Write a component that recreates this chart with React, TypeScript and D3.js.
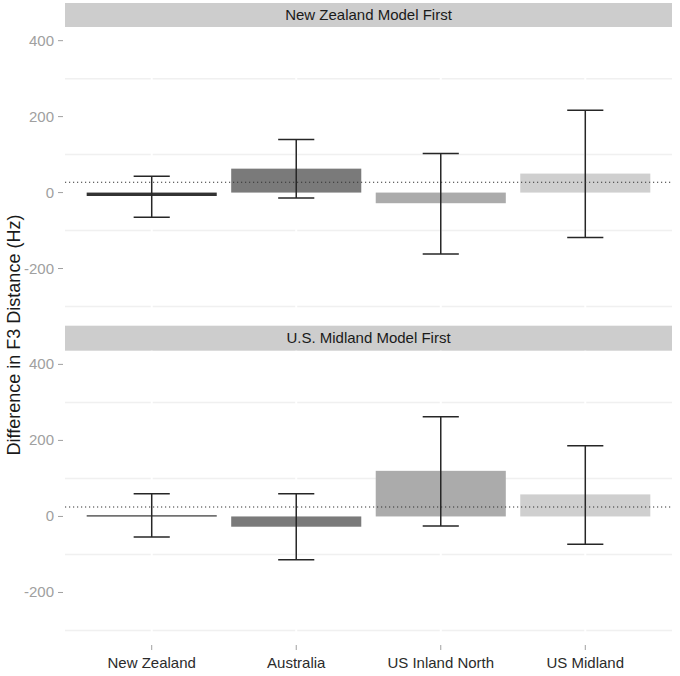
import * as d3 from 'd3';

// categories on the x axis
const CATEGORIES = ['New Zealand', 'Australia', 'US Inland North', 'US Midland'];
// facet titles
const PANELS = ['New Zealand Model First', 'U.S. Midland Model First'];

// New Zealand model first
const NZ_MEANS = [-9, 63, -28, 50];
const NZ_LOWER = [-65, -14, -162, -118];
const NZ_UPPER = [43, 140, 103, 217];

// U.S. Midland model first
const US_MEANS = [3, -27, 120, 58];
const US_LOWER = [-54, -114, -25, -73];
const US_UPPER = [60, 60, 262, 186];

// dotted reference line per panel
const REF_LINES = [27, 25];

const Y_TICKS = [-200, 0, 200, 400];
const Y_MINOR = [-300, -100, 100, 300];

const FILLS = ['#333333', '#7a7a7a', '#ababab', '#cfcfcf'];

const W = 680;
const H = 676;
const LEFT = 65;
const RIGHT = 672;
const FONT = '"Liberation Sans", Arial, sans-serif';

const panelData = [
  { means: NZ_MEANS, lower: NZ_LOWER, upper: NZ_UPPER, ref: REF_LINES[0], stripTop: 3, top: 27, bottom: 316 },
  { means: US_MEANS, lower: US_LOWER, upper: US_UPPER, ref: REF_LINES[1], stripTop: 325.7, top: 350.7, bottom: 640 }
];

const x = d3.scaleLinear().domain([0.4, 4.6]).range([LEFT, RIGHT]);
const pos = (i: number) => x(i + 1);

function Panel({ idx }: { idx: number }) {
  const p = panelData[idx];
  const y = d3.scaleLinear().domain([-325, 436]).range([p.bottom, p.top]);
  const barW = x(1.45) - x(1);
  const capW = x(1.125) - x(1);
  const isLast = idx === panelData.length - 1;

  return (
    <g>
      {/* strip */}
      <rect x={LEFT} y={p.stripTop} width={RIGHT - LEFT} height={p.top - p.stripTop} fill="#cdcdcd" />
      <text
        x={(LEFT + RIGHT) / 2}
        y={(p.stripTop + p.top) / 2 + 5}
        textAnchor="middle"
        fontSize={15}
        fill="#1a1a1a"
        fontFamily={FONT}
      >
        {PANELS[idx]}
      </text>

      {/* grid: minor grey, major white on top */}
      {Y_MINOR.map((t) => (
        <line key={'mn' + t} x1={LEFT} x2={RIGHT} y1={y(t)} y2={y(t)} stroke="#f0f0f0" strokeWidth={1.5} />
      ))}
      {CATEGORIES.map((c, i) => (
        <line key={'vg' + c} x1={pos(i)} x2={pos(i)} y1={p.top} y2={p.bottom} stroke="#ffffff" strokeWidth={2} />
      ))}

      {/* bars */}
      {CATEGORIES.map((c, i) => {
        const v = p.means[i];
        const y0 = y(Math.max(0, v));
        const y1 = y(Math.min(0, v));
        return (
          <rect
            key={'b' + c}
            x={pos(i) - barW}
            y={y0}
            width={barW * 2}
            height={Math.max(1.2, y1 - y0)}
            fill={FILLS[i]}
          />
        );
      })}

      {/* error bars */}
      {CATEGORIES.map((c, i) => (
        <g key={'e' + c} stroke="#262626" strokeWidth={1.5}>
          <line x1={pos(i)} x2={pos(i)} y1={y(p.upper[i])} y2={y(p.lower[i])} />
          <line x1={pos(i) - capW} x2={pos(i) + capW} y1={y(p.upper[i])} y2={y(p.upper[i])} />
          <line x1={pos(i) - capW} x2={pos(i) + capW} y1={y(p.lower[i])} y2={y(p.lower[i])} />
        </g>
      ))}

      {/* reference line */}
      <line
        x1={LEFT}
        x2={RIGHT}
        y1={y(p.ref)}
        y2={y(p.ref)}
        stroke="#333333"
        strokeWidth={1.1}
        strokeDasharray="1.2 2.8"
      />

      {/* y axis */}
      {Y_TICKS.map((t) => (
        <g key={'yt' + t}>
          <line x1={58} x2={63} y1={y(t)} y2={y(t)} stroke="#a0a0a0" strokeWidth={1} />
          <text
            x={54}
            y={y(t) + 5}
            textAnchor="end"
            fontSize={15}
            fill="#a0a0a0"
            fontFamily={FONT}
          >
            {t}
          </text>
        </g>
      ))}

      {/* x axis, only under last panel */}
      {isLast &&
        CATEGORIES.map((c, i) => (
          <g key={'xt' + c}>
            <line x1={pos(i)} x2={pos(i)} y1={645} y2={650} stroke="#a0a0a0" strokeWidth={1} />
            <text x={pos(i)} y={668} textAnchor="middle" fontSize={15} fill="#2b2b2b" fontFamily={FONT}>
              {c}
            </text>
          </g>
        ))}
    </g>
  );
}

export default function App() {
  return (
    <div style={{ position: 'absolute', left: 0, top: 0 }}>
      <svg width={W} height={H} style={{ display: 'block', background: '#fff' }}>
        {PANELS.map((_, i) => (
          <Panel key={i} idx={i} />
        ))}
        <text
          transform={`translate(20,335) rotate(-90)`}
          textAnchor="middle"
          fontSize={18}
          fill="#1a1a1a"
          fontFamily={FONT}
        >
          Difference in F3 Distance (Hz)
        </text>
      </svg>
    </div>
  );
}
